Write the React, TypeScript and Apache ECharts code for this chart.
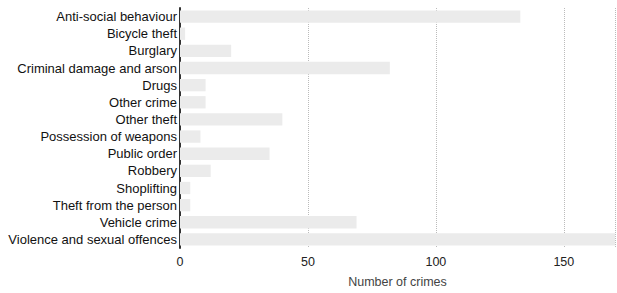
import React, { useEffect, useRef } from "react";
import * as echarts from "echarts";

const categories = [
  "Anti-social behaviour",
  "Bicycle theft",
  "Burglary",
  "Criminal damage and arson",
  "Drugs",
  "Other crime",
  "Other theft",
  "Possession of weapons",
  "Public order",
  "Robbery",
  "Shoplifting",
  "Theft from the person",
  "Vehicle crime",
  "Violence and sexual offences",
];
const crimeCounts = [133, 2, 20, 82, 10, 10, 40, 8, 35, 12, 4, 4, 69, 170];
const xTicks = [0, 50, 100, 150];

export default function App() {
  const ref = useRef<HTMLDivElement>(null);
  useEffect(() => {
    if (!ref.current) return;
    const chart = echarts.init(ref.current, undefined, { renderer: "svg" });
    chart.setOption({
      animation: false,
      backgroundColor: "#ffffff",
      grid: { left: 180, right: 2, top: 8, bottom: 45 },
      xAxis: {
        type: "value",
        min: 0,
        max: 170,
        interval: 50,
        name: "Number of crimes",
        nameLocation: "middle",
        nameGap: 27,
        nameTextStyle: { fontFamily: "Liberation Sans", fontSize: 12.5, color: "#444" },
        axisLine: { show: false },
        axisTick: { show: false },
        axisLabel: {
          fontFamily: "Liberation Sans",
          fontSize: 12.5,
          color: "#222",
          margin: 7,
          showMaxLabel: false,
          formatter: (v: number) => (xTicks.includes(v) ? String(v) : ""),
        },
        splitLine: {
          show: true,
          lineStyle: { color: "#bbb", type: "dotted", width: 1 },
        },
      },
      yAxis: {
        type: "category",
        data: categories,
        inverse: true,
        axisLine: { show: true, lineStyle: { color: "#333", width: 2 } },
        axisTick: { show: false },
        axisLabel: {
          fontFamily: "Liberation Sans",
          fontSize: 13,
          color: "#111",
          margin: 3,
        },
        splitLine: { show: false },
      },
      series: [
        {
          type: "bar",
          data: crimeCounts,
          barCategoryGap: "28%",
          itemStyle: { color: "#ebebeb" },
        },
      ],
    });
    return () => chart.dispose();
  }, []);
  return <div ref={ref} style={{ width: 617, height: 293, position: "absolute", left: 0, top: 0 }} />;
}
